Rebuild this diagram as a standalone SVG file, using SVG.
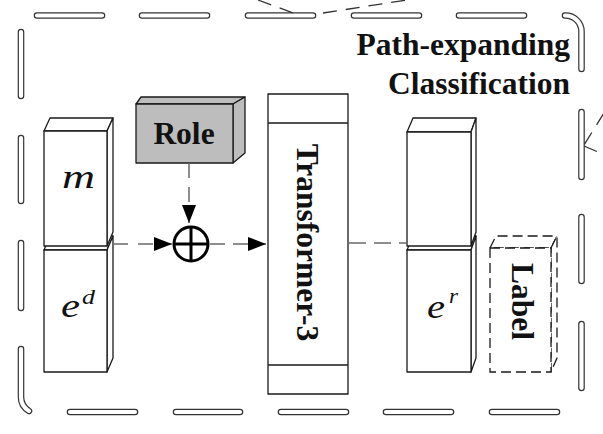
<svg xmlns="http://www.w3.org/2000/svg" width="603" height="434" viewBox="0 0 603 434">
<style>
.face{fill:#fff;stroke:#1a1a1a;stroke-width:1.3;stroke-linejoin:round}
.gray{fill:#bdbdbd;stroke:#1a1a1a;stroke-width:1.3;stroke-linejoin:round}
.lab{fill:#fff;stroke:#1a1a1a;stroke-width:1.3;stroke-dasharray:10 5}
.bold{font-family:"Liberation Serif","Times New Roman",serif;font-weight:bold;font-size:31.5px;fill:#111}
.math{font-family:"Liberation Serif","Times New Roman",serif;font-style:italic;fill:#111}
.bdo{fill:none;stroke:#333;stroke-width:6.6;stroke-linecap:round}
.bdi{fill:none;stroke:#fff;stroke-width:4.2;stroke-linecap:round}
.dl{fill:none;stroke:#6a6a6a;stroke-width:1.5}
.ext{fill:none;stroke:#333;stroke-width:1.3;stroke-dasharray:14 9}
</style>
<defs>
<marker id="ah" markerUnits="userSpaceOnUse" markerWidth="19" markerHeight="14" refX="18" refY="7" orient="auto">
<path d="M0,0 L18,7 L0,14 z" fill="#000"/>
</marker>
<path id="bd" d="M37,15.5 H102 M142,15.5 H207 M248,15.5 H313 M354,15.5 H419 M459,15.5 H524 M565,15.5 A16,16 0 0 1 581.5,31.5 V69 M581.5,112 V177 M581.5,217 V281 M581.5,324 V388 M70,412 H135 M176,412 H240 M281,412 H346 M386,412 H451 M492,412 H557 M21,32 V96 M21,138 V201 M21,243 V308 M21,349 V397 Q21,406 29,411"/>
</defs>
<rect width="603" height="434" fill="#fff"/>
<g id="border">
<use href="#bd" class="bdo"/>
<use href="#bd" class="bdi"/>
</g>
<g id="title">
<text class="bold" x="570" y="55" text-anchor="end">Path-expanding</text>
<text class="bold" x="570" y="94" text-anchor="end">Classification</text>
</g>
<g id="node-ed">
<polygon class="face" points="44,250 50,236 113,236 107,250"/>
<polygon class="face" points="107,250 113,236 113,358 107,372"/>
<rect class="face" x="44" y="250" width="63" height="122"/>
<text class="math" x="61" y="317" font-size="33" textLength="19" lengthAdjust="spacingAndGlyphs">e</text>
<text class="math" x="82" y="304" font-size="20" textLength="13" lengthAdjust="spacingAndGlyphs">d</text>
</g>
<g id="node-m">
<polygon class="face" points="44,131 50,118 113,118 107,131"/>
<polygon class="face" points="107,131 113,118 113,232 107,246"/>
<rect class="face" x="44" y="131" width="63" height="115"/>
<text class="math" x="62" y="188" font-size="34" textLength="33" lengthAdjust="spacingAndGlyphs">m</text>
</g>
<g id="node-role">
<polygon class="gray" points="136,104 141,97 245,97 233,104"/>
<polygon class="gray" points="233,104 245,97 245,153 233,163"/>
<rect class="gray" x="136" y="104" width="97" height="59"/>
<text class="bold" x="184" y="144" text-anchor="middle">Role</text>
</g>
<g id="node-plus">
<circle cx="191" cy="244" r="17" fill="#fff" stroke="#000" stroke-width="3"/>
<path d="M174,244 H208 M191,227 V261" stroke="#000" stroke-width="3"/>
</g>
<g id="node-transformer">
<rect class="face" x="268" y="94" width="80" height="300"/>
<path d="M268,123 H348 M268,365 H348" stroke="#1a1a1a" stroke-width="1.3"/>
<text class="bold" transform="translate(297,242.5) rotate(90)" text-anchor="middle">Transformer-3</text>
</g>
<g id="node-er">
<polygon class="face" points="407,250 413,236 476,236 471,250"/>
<polygon class="face" points="471,250 476,236 476,358 471,372"/>
<rect class="face" x="407" y="250" width="64" height="122"/>
<polygon class="face" points="407,132 413,118 476,118 471,132"/>
<polygon class="face" points="471,132 476,118 476,232 471,246"/>
<rect class="face" x="407" y="132" width="64" height="114"/>
<text class="math" x="427" y="318" font-size="33" textLength="18" lengthAdjust="spacingAndGlyphs">e</text>
<text class="math" x="449" y="303" font-size="21" textLength="9" lengthAdjust="spacingAndGlyphs">r</text>
</g>
<g id="node-label">
<polygon class="lab" points="490,248 496,236 557,236 551,248"/>
<polygon class="lab" points="551,248 557,236 557,358 551,372"/>
<rect class="lab" x="490" y="248" width="61" height="124"/>
<text class="bold" transform="translate(512,301.5) rotate(90)" text-anchor="middle">Label</text>
</g>
<g id="connectors">
<path class="dl" d="M189,163 V223" stroke-dasharray="15 9" marker-end="url(#ah)"/>
<path class="dl" d="M113,244 H172" stroke-dasharray="15 10" marker-end="url(#ah)"/>
<path class="dl" d="M210,244 H266" stroke-dasharray="15 8" marker-end="url(#ah)"/>
<path class="dl" d="M349,243 H407" stroke-dasharray="17 8"/>
<path class="ext" d="M258,0 L296,14"/>
<path class="ext" d="M323,13 L420,-2"/>
<path class="ext" d="M604,113 L584,145" stroke-dasharray="12 6"/>
<path class="ext" d="M584,146 L598,152"/>
</g>
</svg>
